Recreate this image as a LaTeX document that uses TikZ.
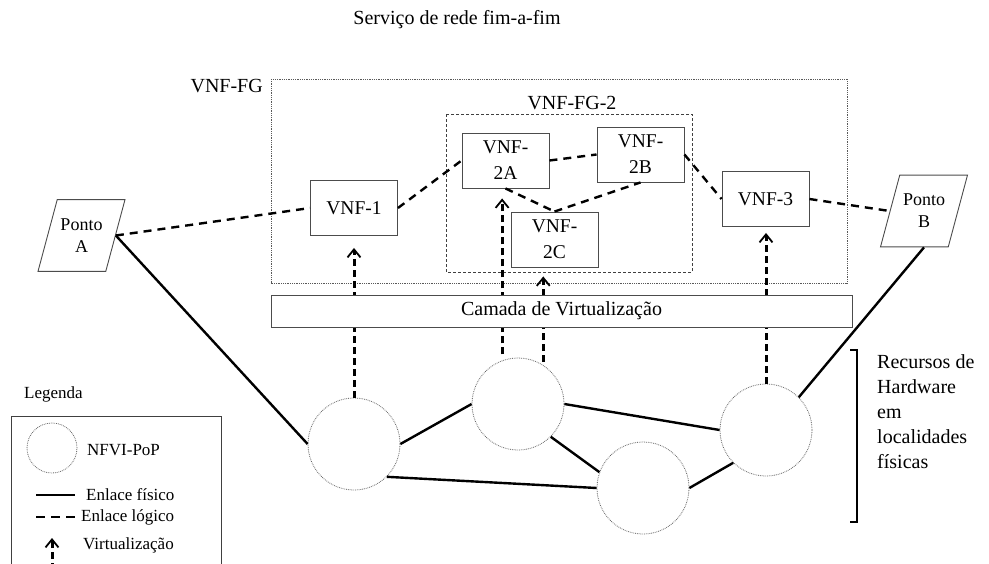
\documentclass[tikz,border=0pt]{standalone}
\usepackage{fontspec}
\setmainfont{Liberation Serif}
\usetikzlibrary{arrows.meta,shapes.geometric}
\tikzset{
  vnfbox/.style={draw=black!70, line width=0.9pt, fill=white, minimum width=87pt, minimum height=55pt,
    align=center, inner sep=0pt, font=\fontsize{19.5}{26}\selectfont},
  ponto/.style={trapezium, trapezium left angle=75, trapezium right angle=105, trapezium stretches body=true,
    draw=black!70, line width=0.9pt, fill=white, minimum width=87pt,
    align=center, inner xsep=0pt, inner ysep=19pt, font=\fontsize{18}{22}\selectfont},
  pop/.style={circle, draw=black!60, densely dotted, line width=0.8pt, fill=white, minimum size=92pt, inner sep=0pt},
  phys/.style={line width=2.4pt},
  logic/.style={line width=2.4pt, dash pattern=on 8pt off 6pt},
  virt/.style={line width=3pt, dash pattern=on 7pt off 4pt, -{Straight Barb[length=8pt, width=13pt, line width=1.8pt]}},
  lbl/.style={font=\fontsize{20}{25}\selectfont, inner sep=0pt},
  leg/.style={font=\fontsize{17}{20}\selectfont, inner sep=0pt, anchor=west}
}
\begin{document}
\begin{tikzpicture}[x=1pt, y=-1pt]
  \useasboundingbox (0,0) rectangle (989,563);
  % grupos de VNF
  \draw[black!65, densely dotted, line width=0.8pt] (271,79) rectangle (847,283);
  \draw[black!75, dash pattern=on 3pt off 2pt, line width=0.8pt] (446,114) rectangle (692,272);
  \node[lbl] (titulo) at (457,20) {Serviço de rede fim-a-fim};
  \node[lbl, anchor=east] (fg) at (263,86) {VNF-FG};
  \node[lbl] (fg2) at (572,103) {VNF-FG-2};
  % NFVI-PoPs
  \node[pop] (C1) at (354,444) {};
  \node[pop] (C2) at (518,404) {};
  \node[pop] (C3) at (643,488) {};
  \node[pop] (C4) at (766,430) {};
  % VNFs
  \node[vnfbox] (vnf1) at (354,208) {VNF-1};
  \node[vnfbox] (vnf2a) at (505.5,160.5) {VNF-\\2A};
  \node[vnfbox] (vnf2b) at (640.5,154.5) {VNF-\\2B};
  \node[vnfbox] (vnf2c) at (554.5,239.5) {VNF-\\2C};
  \node[vnfbox] (vnf3) at (765.5,199) {VNF-3};
  \node[ponto] (pA) at (81.5,235.5) {Ponto\\A};
  \node[ponto] (pB) at (924,211) {Ponto\\B};
  % virtualizacao
  \draw[virt, shorten >=12pt] (C1.north) -- (C1.north |- vnf1.south);
  \draw[virt, shorten <=6pt, shorten >=10pt] (C2.110) -- (C2.110 |- vnf2a.south);
  \draw[virt, shorten <=3pt, shorten >=9pt] (C2.57) -- (C2.57 |- vnf2c.south);
  \draw[virt, shorten >=6pt] (C4.north) -- (C4.north |- vnf3.south);
  \node[draw=black!70, line width=0.9pt, fill=white, minimum width=581pt, minimum height=32pt,
    font=\fontsize{20}{24}\selectfont] (camada) at (561.5,311) {Camada de Virtualização};
  % enlaces logicos
  \draw[logic] (pA.east) -- (vnf1.west);
  \draw[logic] (vnf1.east) -- (vnf2a.west);
  \draw[logic] (vnf2a.east) -- (vnf2b.west);
  \draw[logic] (vnf2a.south) -- (vnf2c.north);
  \draw[logic] (vnf2c.north) -- (vnf2b.south);
  \draw[logic] (vnf2b.east) -- (vnf3.west);
  \draw[logic] (vnf3.east) -- (pB.west);
  % enlaces fisicos
  \draw[phys] (pA.east) -- (C1.west);
  \draw[phys] (C1.east) -- (C2.west);
  \draw[phys] (C1.south east) -- (C3.west);
  \draw[phys] (C2.east) -- (C4.west);
  \draw[phys] (C2.south east) -- (C3.160);
  \draw[phys] (C3.east) -- (C4.south west);
  \draw[phys] (C4.north east) -- (pB.south);
  % recursos
  \draw[line width=2pt] (850,350) -- (857,350) -- (857,522) -- (850,522);
  \node[lbl, anchor=north west, align=left] (rec) at (877,354) {Recursos de\\Hardware\\em\\localidades\\físicas};
  % legenda
  \node[leg] (legenda) at (24,394) {Legenda};
  \draw[black!75, line width=0.9pt] (11,570) -- (11,416) -- (221,416) -- (221,570);
  \node[pop, minimum size=50pt] (legpop) at (52,448) {};
  \node[leg] (legpoptxt) at (87,450) {NFVI-PoP};
  \coordinate (lf1) at (36,495);
  \coordinate (lf2) at (75,495);
  \draw[phys] (lf1) -- (lf2);
  \node[leg] (legfis) at (86,495) {Enlace físico};
  \coordinate (ll1) at (36,517);
  \coordinate (ll2) at (76,517);
  \draw[line width=2.4pt, dash pattern=on 9pt off 6pt] (ll1) -- (ll2);
  \node[leg] (leglog) at (81,517) {Enlace lógico};
  \coordinate (lv1) at (52,570);
  \coordinate (lv2) at (52,538);
  \draw[virt] (lv1) -- (lv2);
  \node[leg] (legvirt) at (83,545) {Virtualização};
\end{tikzpicture}
\end{document}
